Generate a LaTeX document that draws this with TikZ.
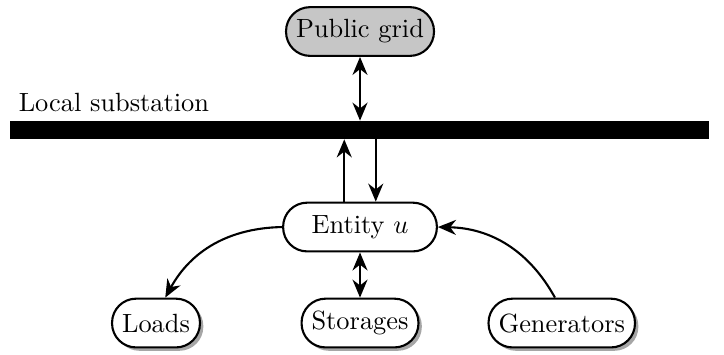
\documentclass[tikz,border=0pt]{standalone}
\usepackage{amsmath}
\usepackage{tikz}
\usetikzlibrary{positioning,shadows,arrows.meta}

\begin{document}
\begin{tikzpicture}[
        unitnode/.style={rectangle, rounded corners=3.2mm, text=black, draw=black, fill=white, thick, minimum height=6.5mm, inner xsep=3.8pt},
        gridnode/.style={unitnode, fill=gray!45},
        shadownode/.style={unitnode, drop shadow={shadow xshift=0.45mm, shadow yshift=-0.45mm, fill=gray!70, opacity=1}},
        busbar/.style={rectangle, fill=black, minimum width=9.32cm, minimum height=2.36mm, inner sep=0pt},
        flow/.style={thick, -{Stealth[length=2.4mm, width=2mm]}},
        flowboth/.style={thick, {Stealth[length=2.4mm, width=2mm]}-{Stealth[length=2.4mm, width=2mm]}},
]
        \useasboundingbox (0,0) rectangle (9.653,4.72);

        \node[busbar] (bus) at (4.793,2.987) {};
        \node[anchor=south west] (buslabel) at (bus.north west) {Local substation};
        \node[gridnode] (grid) at (4.8,4.3) {Public grid};
        \node[unitnode, minimum width=2.05cm] (entity) at (4.8,1.693) {Entity \(u\)};
        \node[shadownode] (loads) at (2.08,0.413) {Loads};
        \node[shadownode] (storages) at (4.8,0.413) {Storages};
        \node[shadownode] (generators) at (7.49,0.413) {Generators};

        \draw[flowboth] (grid.south) -- (grid.south |- bus.north);
        \draw[flow] ([xshift=-0.21cm]entity.north) -- ([xshift=-0.21cm]entity.north |- bus.south);
        \draw[flow] ([xshift=0.21cm]entity.north |- bus.south) -- ([xshift=0.21cm]entity.north);
        \draw[flow] (entity.west) to[bend right=30] (loads.70);
        \draw[flowboth] (entity.south) -- (storages.north);
        \draw[flow] (generators.105) to[bend right=30] (entity.east);
    \end{tikzpicture}
\end{document}
